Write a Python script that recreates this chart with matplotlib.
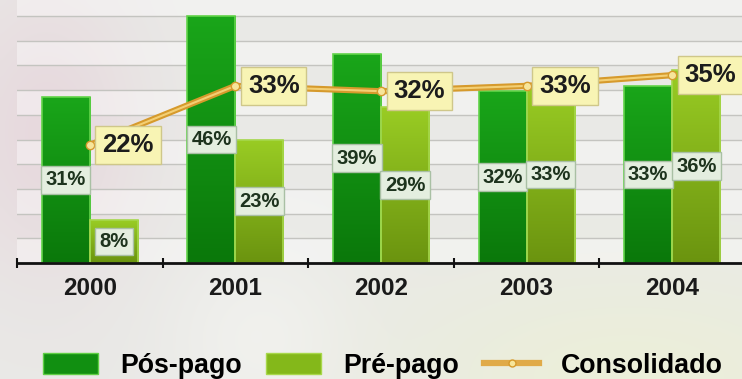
import numpy as np
import matplotlib
matplotlib.use('Agg')
import matplotlib.pyplot as plt
from matplotlib.patches import Patch
from matplotlib.lines import Line2D

anos = ['2000', '2001', '2002', '2003', '2004']
pos_pago = [31, 46, 39, 32, 33]
pre_pago = [8, 23, 29, 33, 36]
consolidado = [22, 33, 32, 33, 35]
serie_nomes = ['Pós-pago', 'Pré-pago', 'Consolidado']

plt.rcParams['font.family'] = ['Liberation Sans', 'DejaVu Sans']
plt.rcParams['font.weight'] = 'bold'

W, H = 742, 379
fig = plt.figure(figsize=(W / 100, H / 100), dpi=100)

# ---- decorative background ----
bg = fig.add_axes([0, 0, 1, 1], zorder=-10)
ny, nx = 80, 160
yy, xx = np.mgrid[0:1:ny * 1j, 0:1:nx * 1j]
img = np.ones((ny, nx, 3)) * np.array([0.915, 0.915, 0.905])
d = np.exp(-(((xx - 0.06) / 0.13) ** 2 + ((yy - 0.35) / 0.4) ** 2))[..., None]
img = img * (1 - 0.55 * d) + np.array([0.90, 0.80, 0.84]) * 0.55 * d
d2 = np.exp(-(((xx - 0.85) / 0.35) ** 2 + ((yy - 1.0) / 0.3) ** 2))[..., None]
img = img * (1 - 0.6 * d2) + np.array([0.93, 0.95, 0.82]) * 0.6 * d2
d3 = np.exp(-(((xx - 0.35) / 0.12) ** 2 + ((yy - 0.9) / 0.25) ** 2))[..., None]
img = img * (1 - 0.5 * d3) + np.array([0.97, 0.97, 0.96]) * 0.5 * d3
bg.imshow(img, aspect='auto', extent=[0, 1, 0, 1], interpolation='bicubic')
bg.axis('off')

# ---- main axes ----
ax = fig.add_axes([17 / W, 116 / H, 728 / W, 263 / H])
ax.set_facecolor('none')
x = np.arange(len(anos))
w = 0.33

step = 4.6
grid = np.arange(0, 49, step)
for i, g in enumerate(grid):
    if i % 2 == 0:
        ax.axhspan(g, g + step, color='white', alpha=0.4, lw=0, zorder=0)
    ax.axhline(g, color='#c4c4c0', lw=1, zorder=0.5)


def grad_bars(bars, top, bottom, edge):
    top = np.array(top); bottom = np.array(bottom)
    for b in bars:
        x0, y0 = b.get_x(), b.get_y()
        bw, bh = b.get_width(), b.get_height()
        g = np.linspace(0, 1, 64)[:, None, None]
        arr = top * (1 - g) + bottom * g
        im = ax.imshow(arr, extent=[x0, x0 + bw, y0, y0 + bh], aspect='auto',
                       zorder=2.1, interpolation='bilinear')
        im.set_clip_path(b)
        ax.add_patch(plt.Rectangle((x0, y0), bw, bh, fill=False, ec=edge, lw=1.2, zorder=2.2))


b1 = ax.bar(x - w / 2, pos_pago, w, color='#128f12', zorder=2)
b2 = ax.bar(x + w / 2, pre_pago, w, color='#84b81a', zorder=2)
grad_bars(b1, (0.10, 0.65, 0.10), (0.04, 0.47, 0.04), '#62d44a')
grad_bars(b2, (0.60, 0.80, 0.14), (0.42, 0.58, 0.06), '#a6d84c')

for xs, vals in ((x - w / 2, pos_pago), (x + w / 2, pre_pago)):
    for xi, v in zip(xs, vals):
        ax.text(xi, v / 2, f'{v}%', ha='center', va='center', fontsize=14.5,
                fontweight='bold', color='#1d331d', zorder=5,
                bbox=dict(boxstyle='square,pad=0.22', fc='#e4eedf', ec='#a9c0a4', lw=1))

ax.plot(x, consolidado, color='#d69a2c', lw=4.5, zorder=4, solid_capstyle='round')
ax.plot(x, consolidado, color='#f3cf74', lw=1.5, zorder=4.1)
ax.plot(x, consolidado, 'o', ms=6, mfc='#f7e59a', mec='#d69a2c', zorder=4.2)
for xi, v in zip(x, consolidado):
    ax.annotate(f'{v}%', (xi, v), xytext=(9, 0), textcoords='offset points',
                ha='left', va='center', fontsize=18.5, fontweight='bold', color='#1c1c1c',
                zorder=6, bbox=dict(boxstyle='square,pad=0.27', fc='#f8f4b4', ec='#cfc78a', lw=1))

for s in ['top', 'left', 'right']:
    ax.spines[s].set_visible(False)
ax.spines['bottom'].set_color('#111111')
ax.spines['bottom'].set_linewidth(2)
ax.set_xticks(x)
ax.set_xticklabels(anos, fontsize=17.5, fontweight='bold', color='#1a1a1a')
ax.tick_params(axis='x', which='major', length=0, pad=10)
ax.set_xticks(np.arange(-0.5, 5, 1), minor=True)
ax.tick_params(axis='x', which='minor', length=7, width=1.5, direction='inout', color='#111111')
ax.set_yticks([])
ax.set_xlim(-0.5, 4.5)
ax.set_ylim(0, 49)

handles = [Patch(fc='#118f11', ec='#5fcf45'),
           Patch(fc='#84b81a', ec='#a8d84a'),
           Line2D([], [], color='#e0aa48', lw=4.5, marker='o', ms=5,
                  mfc='#f7e59a', mec='#d69a2c')]
fig.legend(handles, serie_nomes, loc='center left', bbox_to_anchor=(43 / W, 13 / H),
           ncol=3, frameon=False, prop={'size': 19.3, 'weight': 'bold'},
           handlelength=2.05, handleheight=0.8, handletextpad=0.82,
           columnspacing=0.93, borderpad=0, borderaxespad=0)

fig.savefig('out.png', dpi=100)
